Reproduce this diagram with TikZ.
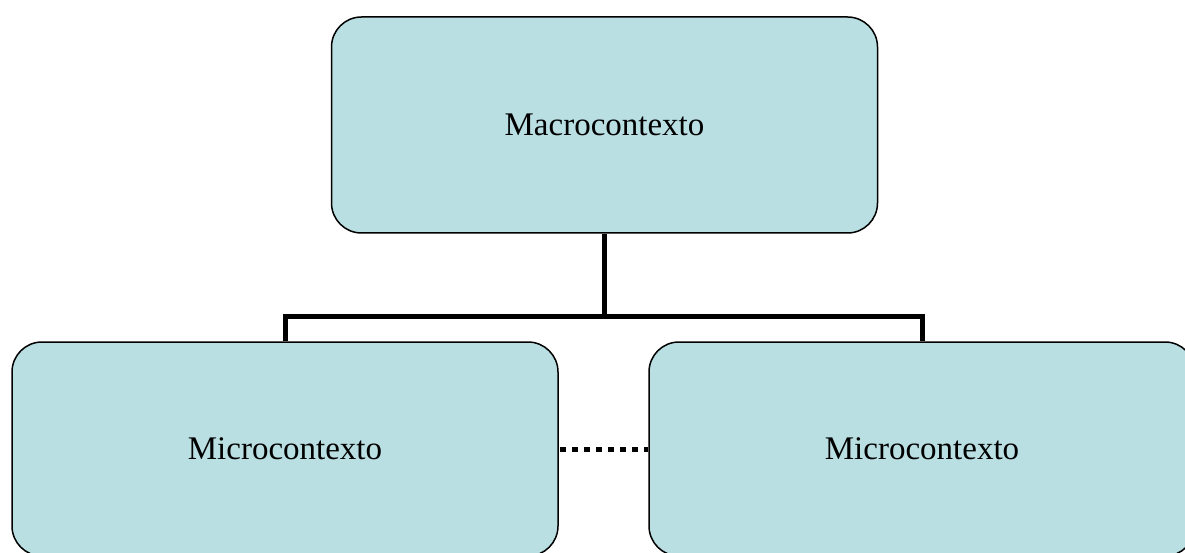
\documentclass[tikz,border=0pt]{standalone}
\usepackage{fontspec}
\setmainfont{Liberation Serif}
\definecolor{boxfill}{HTML}{B9DFE3}
\begin{document}
\begin{tikzpicture}[x=1pt,y=-1pt,
  ctxbox/.style={draw=black, line width=1.5pt, fill=boxfill, rounded corners=30pt,
    inner sep=0pt, minimum width=546pt, font=\fontsize{33}{39}\selectfont},
  dotline/.style={line width=5pt, dash pattern=on 6pt off 6pt}]
\useasboundingbox (0,0) rectangle (1185,553);
\clip (0,0) rectangle (1185,553);
\node[ctxbox, minimum height=216pt] (top) at (604.5,125) {Macrocontexto};
\node[ctxbox, minimum height=214pt] (left) at (285,449) {Microcontexto};
\node[ctxbox, minimum height=214pt] (right) at (922,449) {Microcontexto};
\coordinate (j) at (604.5,316);
\draw[line width=5pt] (top.south) -- (j);
\draw[line width=5pt, line join=miter] (left.north) -- (left.north |- j) -- (right.north |- j) -- (right.north);
\draw[dotline] ([xshift=1pt]left.east) -- (right.west);
\end{tikzpicture}
\end{document}
